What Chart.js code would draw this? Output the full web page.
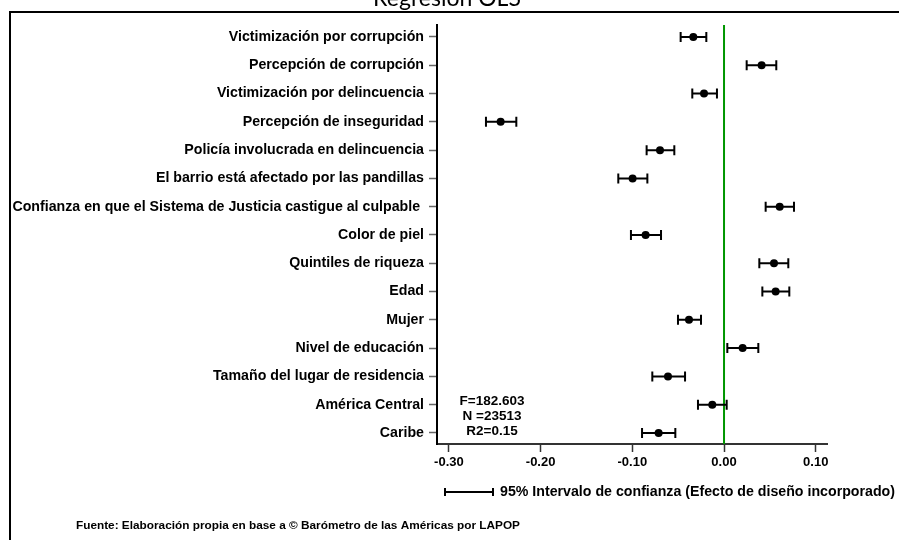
<!DOCTYPE html>
<html>
<head>
<meta charset="utf-8">
<script src="https://cdn.jsdelivr.net/npm/chart.js@4.4.1/dist/chart.umd.min.js"></script>
<style>
  html, body { margin: 0; padding: 0; background: #fff; }
  #wrap { width: 899px; height: 540px; position: relative; }
</style>
</head>
<body>
<div id="wrap"><canvas id="c" width="899" height="540"></canvas></div>
<script>
const categories = [
  "Victimización por corrupción",
  "Percepción de corrupción",
  "Victimización por delincuencia",
  "Percepción de inseguridad",
  "Policía involucrada en delincuencia",
  "El barrio está afectado por las pandillas",
  "Confianza en que el Sistema de Justicia castigue al culpable ",
  "Color de piel",
  "Quintiles de riqueza",
  "Edad",
  "Mujer",
  "Nivel de educación",
  "Tamaño del lugar de residencia",
  "América Central",
  "Caribe"
];
const coefficients = [-0.0335, 0.041, -0.0218, -0.2436, -0.0698, -0.0997, 0.0607, -0.0855, 0.0545, 0.0563, -0.0382, 0.0203, -0.0611, -0.0128, -0.0713];
const ciLower = [-0.0473, 0.0247, -0.0346, -0.2596, -0.0844, -0.1153, 0.0454, -0.1015, 0.0385, 0.0418, -0.0502, 0.0036, -0.0782, -0.0284, -0.0894];
const ciUpper = [-0.0193, 0.0570, -0.0077, -0.2265, -0.0542, -0.0836, 0.0763, -0.0687, 0.0701, 0.0712, -0.0251, 0.0374, -0.0425, 0.0029, -0.0531];
const xTicks = [-0.30, -0.20, -0.10, 0.00, 0.10];
const titleText = "Regresión OLS";
const statsLines = ["F=182.603", "N =23513", "R2=0.15"];
const legendText = "95% Intervalo de confianza (Efecto de diseño incorporado)";
const sourceText = "Fuente: Elaboración propia en base a © Barómetro de las Américas por LAPOP";

const FONT = "'Liberation Sans', Arial, sans-serif";

const points = coefficients.map((v, i) => ({ x: v, y: i }));

const extras = {
  id: 'extras',
  beforeDatasetsDraw(chart) {
    const ctx = chart.ctx, xs = chart.scales.x, ys = chart.scales.y, area = chart.chartArea;
    ctx.save();
    const x0 = xs.getPixelForValue(0);
    ctx.strokeStyle = 'rgb(0,150,0)';
    ctx.lineWidth = 2;
    ctx.beginPath(); ctx.moveTo(x0, area.top); ctx.lineTo(x0, area.bottom); ctx.stroke();
    ctx.strokeStyle = '#000';
    ctx.lineWidth = 2;
    for (let i = 0; i < categories.length; i++) {
      const y = ys.getPixelForValue(i);
      const a = xs.getPixelForValue(ciLower[i]), b = xs.getPixelForValue(ciUpper[i]);
      ctx.beginPath();
      ctx.moveTo(a, y); ctx.lineTo(b, y);
      ctx.moveTo(a, y - 5); ctx.lineTo(a, y + 5);
      ctx.moveTo(b, y - 5); ctx.lineTo(b, y + 5);
      ctx.stroke();
    }
    ctx.restore();
  },
  afterDraw(chart) {
    const ctx = chart.ctx;
    ctx.save();
    ctx.strokeStyle = '#000';
    ctx.lineWidth = 2;
    ctx.beginPath();
    ctx.moveTo(10, 540); ctx.lineTo(10, 12); ctx.lineTo(899, 12);
    ctx.stroke();
    ctx.fillStyle = '#000';
    ctx.font = "23px Lato, 'Open Sans', sans-serif";
    ctx.textAlign = 'center';
    ctx.textBaseline = 'alphabetic';
    ctx.fillText(titleText, 447, 6);
    ctx.font = "bold 13.5px " + FONT;
    ctx.textBaseline = 'middle';
    statsLines.forEach((t, i) => ctx.fillText(t, 492, 401 + i * 15));
    ctx.lineWidth = 2;
    ctx.beginPath();
    ctx.moveTo(445, 492); ctx.lineTo(493, 492);
    ctx.moveTo(445, 488); ctx.lineTo(445, 496);
    ctx.moveTo(493, 488); ctx.lineTo(493, 496);
    ctx.stroke();
    ctx.textAlign = 'left';
    ctx.font = "bold 14.2px " + FONT;
    ctx.fillText(legendText, 500, 492);
    ctx.font = "bold 11.8px " + FONT;
    ctx.fillText(sourceText, 76, 526);
    ctx.restore();
  }
};

new Chart(document.getElementById('c'), {
  type: 'scatter',
  data: {
    datasets: [{
      data: points,
      backgroundColor: '#000',
      borderColor: '#000',
      pointRadius: 4,
      pointHoverRadius: 4,
      borderWidth: 0
    }]
  },
  options: {
    responsive: false,
    animation: false,
    events: [],
    layout: { padding: { left: 0, right: 72, top: 25, bottom: 0 } },
    plugins: { legend: { display: false }, tooltip: { enabled: false } },
    scales: {
      x: {
        type: 'linear',
        min: -0.313, max: 0.1123,
        afterBuildTicks: (s) => { s.ticks = xTicks.map(v => ({ value: v })); },
        afterFit: (s) => { s.height = 96; },
        grid: { drawOnChartArea: false, drawTicks: true, tickLength: 8, color: '#333', tickWidth: 1.5 },
        border: { color: '#333', width: 2 },
        ticks: {
          color: '#000', padding: 3,
          font: { family: FONT, size: 13, weight: 'bold' },
          callback: (v) => Number(v).toFixed(2),
          maxRotation: 0
        }
      },
      y: {
        type: 'linear',
        reverse: true,
        min: -0.424, max: 14.39,
        afterBuildTicks: (s) => { s.ticks = categories.map((c, i) => ({ value: i })); },
        afterFit: (s) => { s.width = 437; },
        grid: { drawOnChartArea: false, drawTicks: true, tickLength: 8, color: '#666', tickWidth: 1.5 },
        border: { color: '#000', width: 2 },
        ticks: {
          color: '#000', padding: 5, autoSkip: false,
          font: { family: FONT, size: 14.2, weight: 'bold' },
          callback: (v) => categories[v] !== undefined ? categories[v] : ''
        }
      }
    }
  },
  plugins: [extras]
});
</script>
</body>
</html>
